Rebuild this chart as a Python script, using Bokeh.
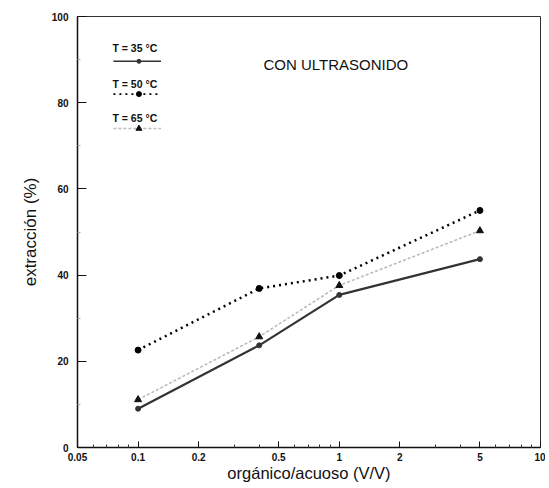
from bokeh.plotting import figure
from bokeh.models import FixedTicker, Range1d
from bokeh.core.properties import value
from bokeh.embed import file_html
from bokeh.resources import INLINE

# ---- data ----
ratio_oa = [0.1, 0.4, 1, 5]                 # organico/acuoso (V/V)
extraction_35 = [9.0, 23.7, 35.4, 43.7]     # T = 35 C
extraction_50 = [22.6, 36.9, 39.9, 55.0]    # T = 50 C
extraction_65 = [11.1, 25.7, 37.6, 50.3]    # T = 65 C
series_names = ["T = 35 \u00b0C", "T = 50 \u00b0C", "T = 65 \u00b0C"]
x_ticks = [0.05, 0.1, 0.2, 0.5, 1, 2, 5, 10]
x_tick_labels = ["0.05", "0.1", "0.2", "0.5", "1", "2", "5", "10"]
y_ticks = [0, 20, 40, 60, 80, 100]
annotation_text = "CON ULTRASONIDO"
x_title = "org\u00e1nico/acuoso (V/V)"
y_title = "extracci\u00f3n (%)"

FONT = "Liberation Sans"

p = figure(width=545, height=484, x_axis_type="log",
           x_range=Range1d(0.05, 10), y_range=Range1d(0, 100),
           output_backend="svg", toolbar_location=None,
           min_border_left=77, min_border_right=5, min_border_top=16, min_border_bottom=37,
           background_fill_color="white", border_fill_color="white")
p.grid.visible = False
p.outline_line_color = "#333333"
p.outline_line_width = 1

# x axis
xa = p.xaxis[0]
minor = [m * d for d in (0.01, 0.1, 1) for m in range(2, 10)]
minor = [v for v in minor if 0.05 <= v <= 10 and v not in x_ticks]
xa.ticker = FixedTicker(ticks=x_ticks, minor_ticks=minor)
xa.major_label_overrides = {t: l for t, l in zip(x_ticks, x_tick_labels)}
xa.axis_label = x_title
xa.axis_label_text_font = FONT
xa.axis_label_text_font_size = "16.5px"
xa.axis_label_text_font_style = "normal"
xa.axis_label_text_color = "#111111"
xa.axis_label_standoff = 0
xa.major_label_text_font = FONT
xa.major_label_text_font_style = "bold"
xa.major_label_text_font_size = "10px"
xa.major_label_text_color = "#111111"
xa.major_label_standoff = 5
xa.major_tick_in = 6
xa.major_tick_out = 0
xa.minor_tick_in = 3
xa.minor_tick_out = 0
xa.axis_line_width = 1.5
xa.axis_line_color = "#111111"
xa.major_tick_line_color = "#111111"
xa.minor_tick_line_color = "#333333"

# y axis
ya = p.yaxis[0]
ya.ticker = FixedTicker(ticks=y_ticks, minor_ticks=[10, 30, 50, 70, 90])
ya.axis_label = y_title
ya.axis_label_text_font = FONT
ya.axis_label_text_font_size = "17px"
ya.axis_label_text_font_style = "normal"
ya.axis_label_text_color = "#111111"
ya.axis_label_standoff = 9
ya.major_label_text_font = FONT
ya.major_label_text_font_style = "bold"
ya.major_label_text_font_size = "10px"
ya.major_label_text_color = "#111111"
ya.major_label_standoff = 9
ya.major_tick_in = 9
ya.major_tick_out = 0
ya.minor_tick_in = 3
ya.minor_tick_out = 0
ya.minor_tick_line_color = "#aaaaaa"
ya.axis_line_width = 1.5
ya.axis_line_color = "#111111"
ya.major_tick_line_color = "#111111"

# series styles
styles = [
    dict(y=extraction_35, color="#333333", width=2.2, dash="solid", marker="circle", msize=5, mcolor="#333333"),
    dict(y=extraction_50, color="#000000", width=2.5, dash="2 4", marker="circle", msize=6, mcolor="#000000"),
    dict(y=extraction_65, color="#bbbbbb", width=1.6, dash="3 2", marker="triangle", msize=7, mcolor="#111111"),
]
for s in styles:
    p.line(ratio_oa, s["y"], line_color=s["color"], line_width=s["width"], line_dash=s["dash"])
    p.scatter(ratio_oa, s["y"], marker=s["marker"], size=s["msize"],
              fill_color=s["mcolor"], line_color=s["mcolor"])

# hand-drawn style legend (label above a short sample line)
LEG_X0, LEG_X1, LEG_XM, LEG_XT = 0.0754, 0.130, 0.101, 0.0746
leg_text_y = [92.8, 84.3, 76.5]
leg_line_y = [89.6, 82.0, 74.0]
for name, s, ty, ly in zip(series_names, styles, leg_text_y, leg_line_y):
    p.text(x=[LEG_XT], y=[ty], text=[name], text_font=value(FONT), text_font_style="bold",
           text_font_size="10.5px", text_color="#111111", text_baseline="middle", text_align="left")
    p.line([LEG_X0, LEG_X1], [ly, ly], line_color=s["color"], line_width=min(s["width"], 1.6),
           line_dash=s["dash"])
    p.scatter([LEG_XM], [ly], marker=s["marker"], size=s["msize"] - 1,
              fill_color=s["mcolor"], line_color=s["mcolor"])

p.text(x=[0.42], y=[88.8], text=[annotation_text], text_font=value(FONT),
       text_font_size="15px", text_color="#111111", text_baseline="middle", text_align="left")

open("out.html", "w").write(file_html(p, INLINE))
